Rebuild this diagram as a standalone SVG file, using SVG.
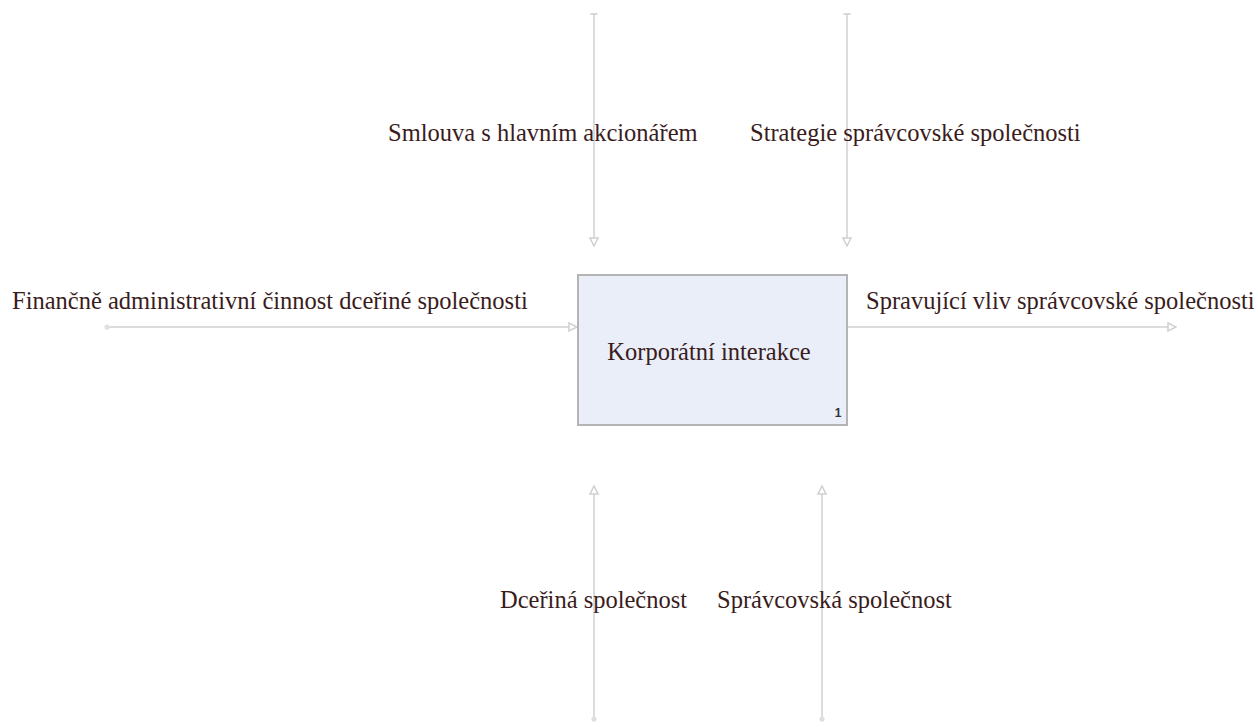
<svg xmlns="http://www.w3.org/2000/svg" width="1258" height="727" viewBox="0 0 1258 727">
  <style>
    .lbl { font-family: "Liberation Serif", "Times New Roman", serif; font-size: 24.5px; fill: #3a1c1c; }
    .conn { stroke: #dcdcdc; stroke-width: 2; fill: none; }
    .box { fill: #e9eef9; stroke: #b4b4b4; stroke-width: 2; }
    .num { font-family: "Liberation Sans", Arial, sans-serif; font-size: 12px; font-weight: bold; fill: #333; }
  </style>
  <defs>
    <marker id="arrow" viewBox="0 0 10 10" refX="9" refY="5" markerWidth="10" markerHeight="10" markerUnits="userSpaceOnUse" orient="auto">
      <path d="M1,1 L9,5 L1,9 Z" fill="#fff" stroke="#d0d0d0" stroke-width="1.5"/>
    </marker>
    <marker id="dot" viewBox="0 0 8 8" refX="4" refY="4" markerWidth="7" markerHeight="7" markerUnits="userSpaceOnUse">
      <circle cx="4" cy="4" r="3" fill="#e0e0e0"/>
    </marker>
    <marker id="tick" viewBox="0 0 10 10" refX="5" refY="5" markerWidth="9" markerHeight="9" markerUnits="userSpaceOnUse">
      <path d="M1,5 L9,5" stroke="#d4d4d4" stroke-width="2"/>
    </marker>
  </defs>

  <g id="connectors">
    <path class="conn" d="M594,14 L594,246" marker-start="url(#tick)" marker-end="url(#arrow)"/>
    <path class="conn" d="M847,14 L847,246" marker-start="url(#tick)" marker-end="url(#arrow)"/>
    <path class="conn" d="M107,327 L577,327" marker-start="url(#dot)" marker-end="url(#arrow)"/>
    <path class="conn" d="M848,327 L1176,327" marker-end="url(#arrow)"/>
    <path class="conn" d="M594,719 L594,486" marker-start="url(#dot)" marker-end="url(#arrow)"/>
    <path class="conn" d="M822,719 L822,486" marker-start="url(#dot)" marker-end="url(#arrow)"/>
  </g>

  <g id="node-1">
    <rect class="box" x="578" y="275" width="269" height="150"/>
    <text class="lbl" x="709" y="360" text-anchor="middle">Korporátní interakce</text>
    <text class="num" x="838" y="417" text-anchor="middle">1</text>
  </g>

  <g id="labels">
    <text class="lbl" x="388" y="141">Smlouva s hlavním akcionářem</text>
    <text class="lbl" x="750" y="141">Strategie správcovské společnosti</text>
    <text class="lbl" x="12" y="309">Finančně administrativní činnost dceřiné společnosti</text>
    <text class="lbl" x="866" y="309">Spravující vliv správcovské společnosti</text>
    <text class="lbl" x="500" y="608">Dceřiná společnost</text>
    <text class="lbl" x="717" y="608">Správcovská společnost</text>
  </g>
</svg>
